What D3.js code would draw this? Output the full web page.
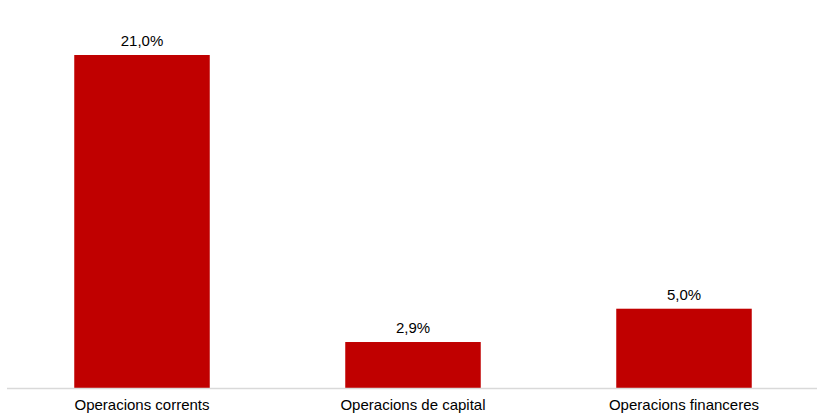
<!DOCTYPE html>
<html><head><meta charset="utf-8">
<script src="https://cdn.jsdelivr.net/npm/d3@7"></script>
<style>body{margin:0;background:#fff}svg{display:block}</style>
</head><body>
<script>
const categories = ["Operacions corrents", "Operacions de capital", "Operacions financeres"];
const values = [21.0, 2.9, 5.0];
const labels = ["21,0%", "2,9%", "5,0%"];

const W = 817, H = 414;
const svg = d3.select("body").append("svg").attr("width", W).attr("height", H);
const x = d3.scaleBand().domain(categories).range([6.5, 819.5]).paddingInner(0.5).paddingOuter(0.25);
const y = d3.scaleLinear().domain([0, 21]).range([388, 55]);

svg.selectAll("rect.bar").data(values).enter().append("rect")
  .attr("class", "bar")
  .attr("x", (d, i) => x(categories[i]))
  .attr("width", x.bandwidth())
  .attr("y", d => y(d))
  .attr("height", d => y(0) - y(d))
  .attr("fill", "#c00000");

svg.append("line").attr("x1", 7).attr("x2", 817).attr("y1", y(0) + 0.5).attr("y2", y(0) + 0.5)
  .attr("stroke", "#d9d9d9").attr("stroke-width", 1.3);

svg.selectAll("text.val").data(values).enter().append("text")
  .attr("class", "val")
  .attr("x", (d, i) => x(categories[i]) + x.bandwidth() / 2)
  .attr("y", d => y(d) - 9)
  .attr("text-anchor", "middle")
  .attr("font-family", "Liberation Sans, Arial, sans-serif")
  .attr("font-size", 15).attr("fill", "#000")
  .text((d, i) => labels[i]);

svg.selectAll("text.cat").data(categories).enter().append("text")
  .attr("class", "cat")
  .attr("x", d => x(d) + x.bandwidth() / 2)
  .attr("y", 410)
  .attr("text-anchor", "middle")
  .attr("font-family", "Liberation Sans, Arial, sans-serif")
  .attr("font-size", 15).attr("fill", "#000")
  .text(d => d);
</script>
</body></html>
